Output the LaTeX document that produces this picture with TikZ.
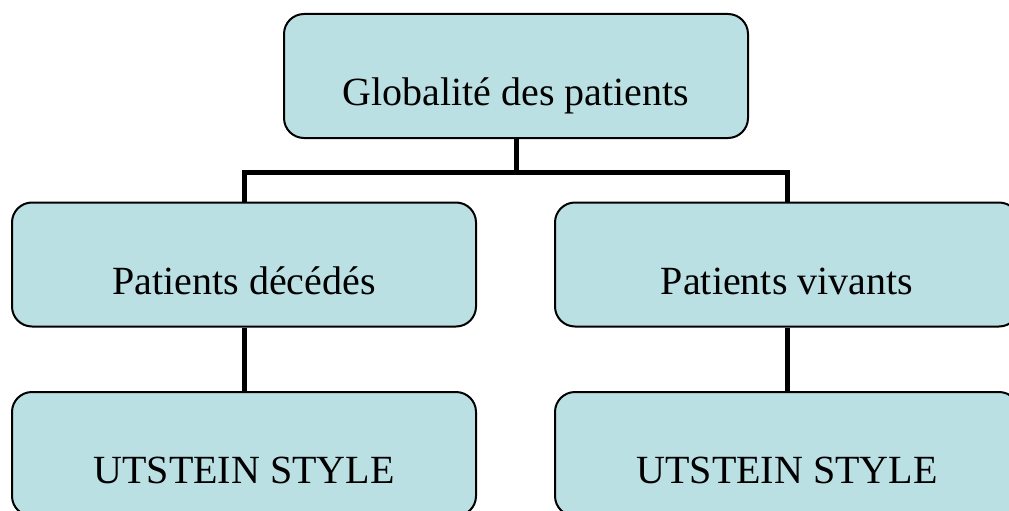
\documentclass[tikz,border=0pt]{standalone}
\usepackage{fontspec}
\setmainfont{Liberation Serif}
\definecolor{boxfill}{RGB}{187,224,227}
\tikzset{
  orgbox/.style={draw=black, line width=2pt, fill=boxfill, rounded corners=20pt,
    minimum width=464pt, minimum height=124pt, inner sep=0pt,
    text height=59pt, text depth=0pt,
    font=\fontsize{40}{48}\selectfont},
  link/.style={line width=5pt, draw=black}
}
\begin{document}
\begin{tikzpicture}[x=1pt,y=-1pt]
\useasboundingbox (0,0) rectangle (1009,511);
\clip (0,0) rectangle (1009,511);
\node[orgbox] (top) at (516,76) {Globalité des patients};
\node[orgbox] (ml) at (244,264.5) {Patients décédés};
\node[orgbox] (mr) at (787,264.5) {Patients vivants};
\node[orgbox] (bl) at (244,454) {UTSTEIN STYLE};
\node[orgbox] (br) at (787,454) {UTSTEIN STYLE};
\coordinate (j) at (516,172);
\draw[link] (top.south) -- (j);
\draw[link] (ml.north) |- (j) -| (mr.north);
\draw[link] (ml.south) -- (bl.north);
\draw[link] (mr.south) -- (br.north);
\end{tikzpicture}
\end{document}
